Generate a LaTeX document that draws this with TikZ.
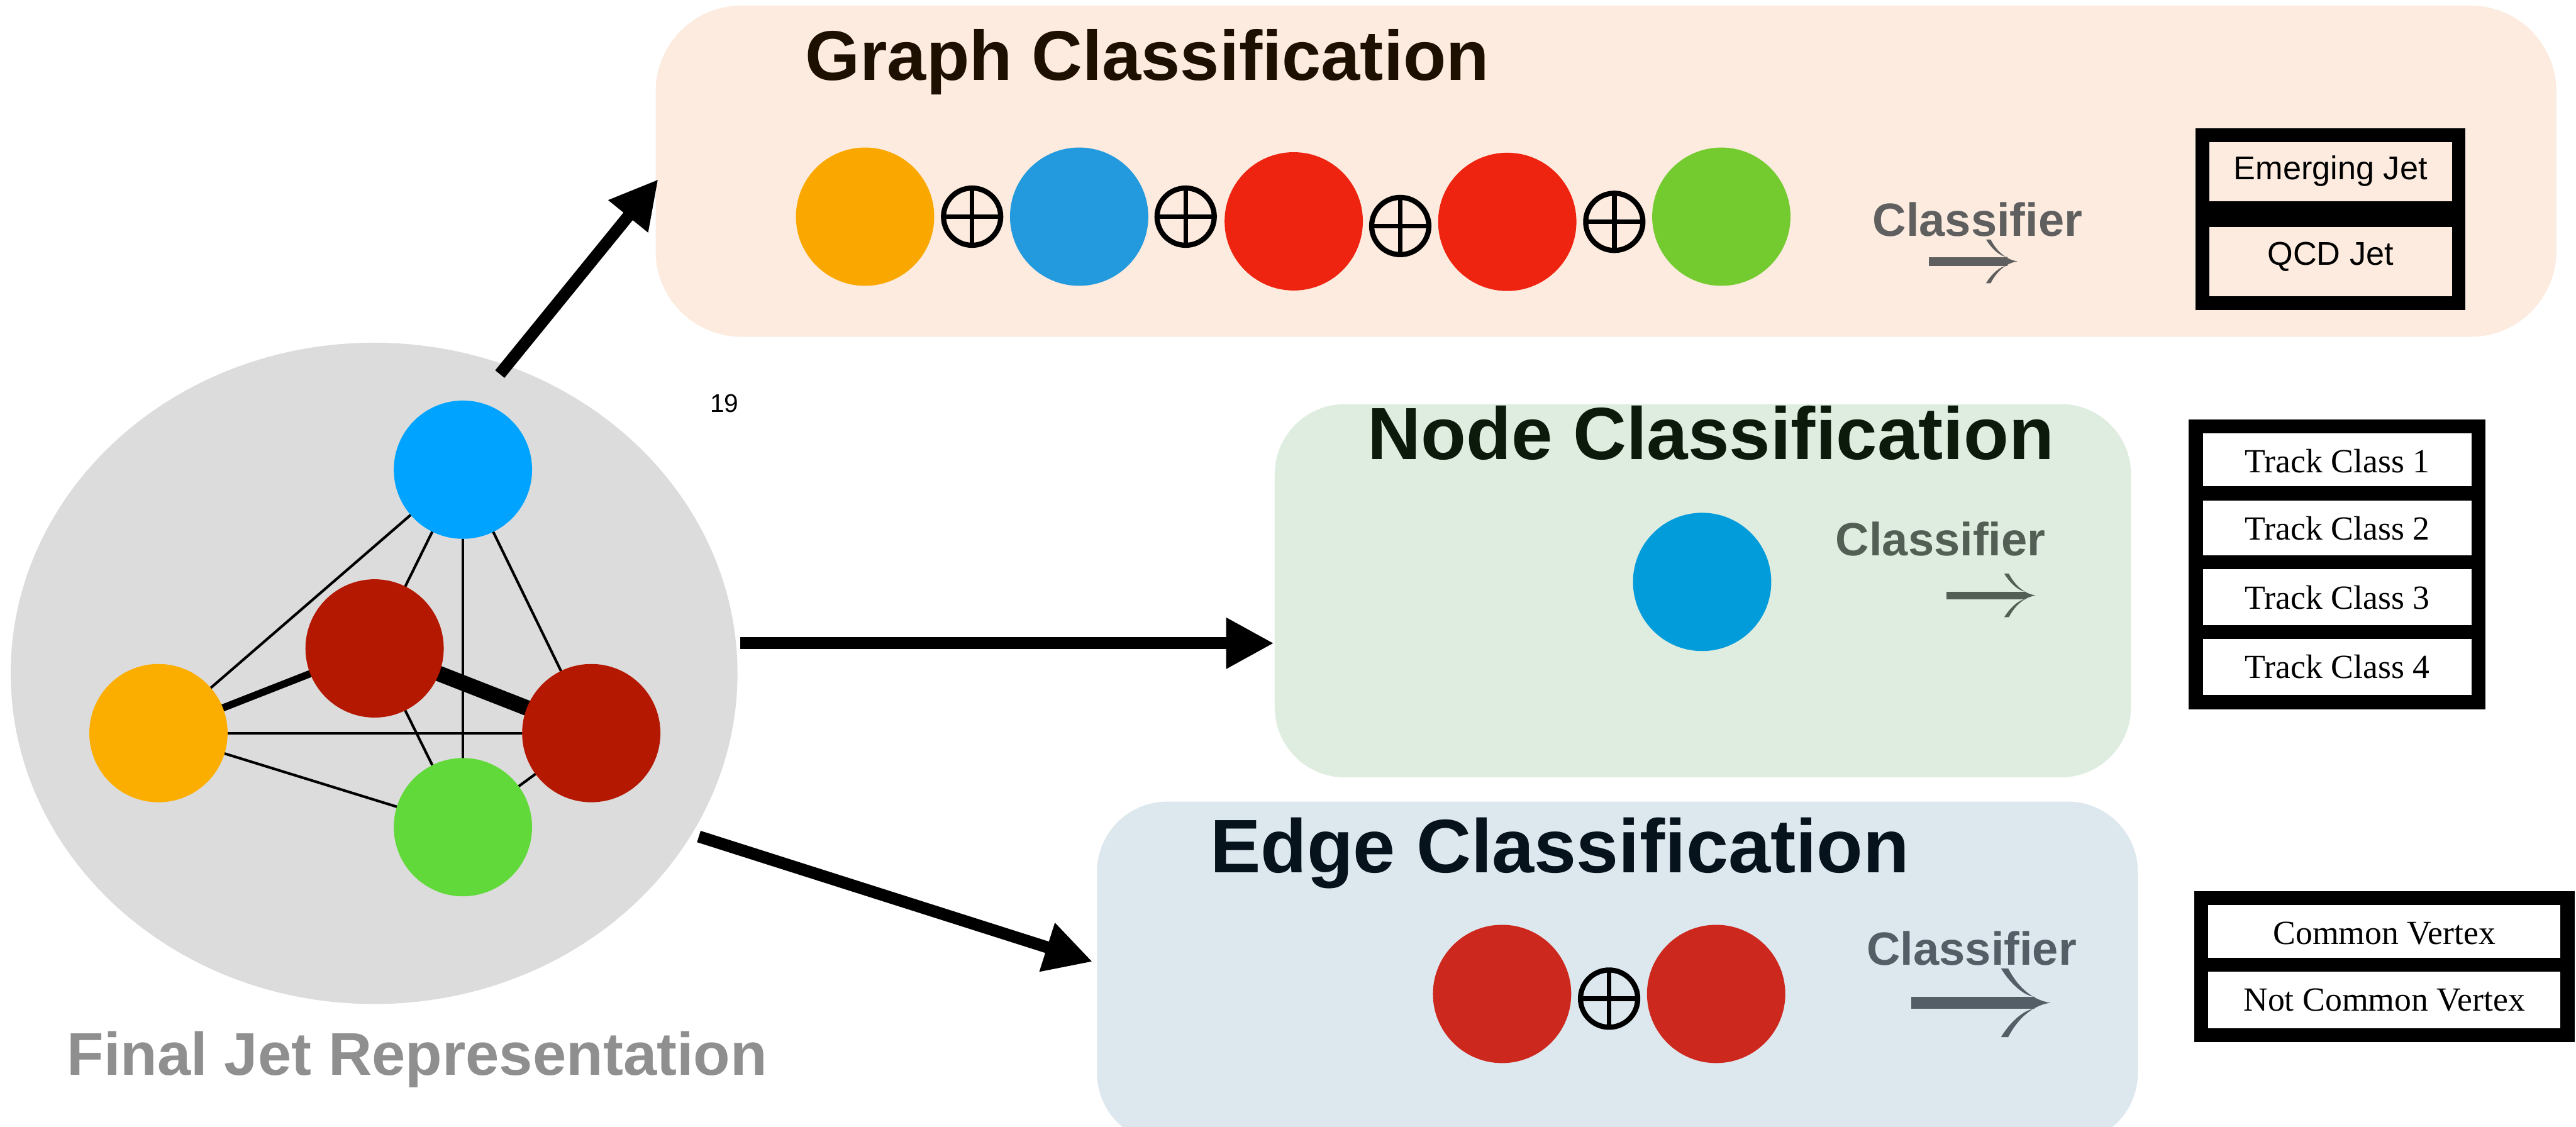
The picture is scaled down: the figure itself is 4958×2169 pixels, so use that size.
\documentclass[tikz,border=0pt]{standalone}
\usepackage{fontspec}
\setmainfont{Liberation Serif}
\newfontfamily\hel{Liberation Sans}
\usetikzlibrary{arrows.meta,shapes.geometric}
\pgfdeclarelayer{back}
\pgfdeclarelayer{mid}
\pgfsetlayers{back,mid,main}

% panel fills
\definecolor{gpeach}{HTML}{FCEBDE}
\definecolor{ngreen}{HTML}{DEEDDF}
\definecolor{eblue}{HTML}{DDE7EE}
\definecolor{jetgray}{HTML}{DCDCDC}
% titles and labels
\definecolor{gtitlec}{HTML}{1E1000}
\definecolor{ntitlec}{HTML}{0B1A0B}
\definecolor{etitlec}{HTML}{06121C}
\definecolor{gclsc}{HTML}{5F5F5F}
\definecolor{nclsc}{HTML}{535F55}
\definecolor{eclsc}{HTML}{535E66}
\definecolor{capgray}{HTML}{8F8F8F}
% graph-level dots
\definecolor{gorange}{HTML}{FAA800}
\definecolor{gblue}{HTML}{229ADD}
\definecolor{gred}{HTML}{EE2310}
\definecolor{ggreen}{HTML}{74CB30}
\definecolor{nblue}{HTML}{039CDB}
\definecolor{ered}{HTML}{CD281D}
% jet graph dots
\definecolor{jblue}{HTML}{00A3FF}
\definecolor{jred}{HTML}{B51800}
\definecolor{jorange}{HTML}{FCAE00}
\definecolor{jgreen}{HTML}{62D93A}

% long arrow under "Classifier": #1 tip x, #2 y, #3 tail x,
% #4 shaft thickness, #5 half head height, #6 head length, #7 colour
\newcommand{\glypharrow}[7]{%
  \fill[#7] (#3,{#2-#4/2}) rectangle ({#1-0.35*#6},{#2+#4/2});
  \fill[#7] ({#1-1.1*#6},{#2-#5}) -- ({#1-0.94*#6},{#2-#5})
    .. controls ({#1-0.72*#6},{#2-0.45*#5}) and ({#1-0.4*#6},{#2-0.08*#5}) .. (#1,#2)
    .. controls ({#1-0.4*#6},{#2+0.08*#5}) and ({#1-0.72*#6},{#2+0.45*#5}) .. ({#1-0.94*#6},{#2+#5})
    -- ({#1-1.1*#6},{#2+#5})
    .. controls ({#1-0.92*#6},{#2+0.6*#5}) and ({#1-0.6*#6},{#2+0.2*#5}) .. ({#1-0.35*#6},{#2+#4/2})
    -- ({#1-0.35*#6},{#2-#4/2})
    .. controls ({#1-0.6*#6},{#2-0.2*#5}) and ({#1-0.92*#6},{#2-0.6*#5}) .. ({#1-1.1*#6},{#2-#5})
    -- cycle;
}

\tikzset{
  panel/.style={rectangle, draw=none, inner sep=0pt, outer sep=0pt},
  dot/.style={circle, draw=none, inner sep=0pt, outer sep=0pt, minimum size=2.66cm},
  frame/.style={rectangle, fill=black, draw=none, inner sep=0pt, outer sep=0pt},
  cell/.style={rectangle, draw=none, inner sep=0pt, outer sep=0pt},
  lbl/.style={anchor=base, inner sep=0pt, outer sep=0pt},
  titlefont/.style={font={\hel\bfseries\fontsize{#1}{#1}\selectfont}},
  clsfont/.style={font={\hel\bfseries\fontsize{25.5pt}{26pt}\selectfont}},
  sansfont/.style={font={\hel\fontsize{18pt}{20pt}\selectfont}},
  seriffont/.style={font={\fontsize{18.5pt}{20pt}\selectfont}},
  oplusmark/.pic={
    \draw[line width=0.1cm] (0,0) circle (0.55cm);
    \draw[line width=0.09cm] (-55,0) -- (55,0) (0,-55) -- (0,55);
  },
  thinedge/.style={line width=0.05cm, black},
  bigarrow/.style={line width=0.23cm, black, -{Triangle[length=0.92cm,width=0.92cm]}},
}

\begin{document}
\begin{tikzpicture}[x=0.01cm, y=-0.01cm]
\useasboundingbox (0,0) rectangle (4958,2169);

% ---------- panels ----------
\begin{pgfonlayer}{back}
  \fill[white] (0,0) rectangle (4958,2169);
  \begin{scope}
    \clip (0,0) rectangle (4958,2169);
    \node[panel, fill=gpeach, rounded corners=1.65cm, minimum width=36.56cm, minimum height=6.37cm] (gbox) at (3091,329.5) {};
    \node[panel, fill=ngreen, rounded corners=1.35cm, minimum width=16.47cm, minimum height=7.18cm] (nbox) at (3277.5,1137) {};
    \node[panel, fill=eblue, rounded corners=1.35cm, minimum width=20.02cm, minimum height=6.57cm] (ebox) at (3113,1871.5) {};
    \node[ellipse, fill=jetgray, draw=none, inner sep=0pt, minimum width=13.98cm, minimum height=12.72cm] (jet) at (720,1296) {};
  \end{scope}
\end{pgfonlayer}

% ---------- final jet representation graph ----------
\node[dot, fill=jblue]   (jb)  at (891,904) {};
\node[dot, fill=jred]    (jr1) at (721,1248) {};
\node[dot, fill=jorange] (jo)  at (305,1411) {};
\node[dot, fill=jred]    (jr2) at (1138,1411) {};
\node[dot, fill=jgreen]  (jg)  at (891,1592) {};

\begin{pgfonlayer}{mid}
  \draw[thinedge] (jo.center) -- (jb.center);
  \draw[thinedge] (jr1.center) -- (jb.center);
  \draw[thinedge] (jb.center) -- (jg.center);
  \draw[thinedge] (jb.center) -- (jr2.center);
  \draw[thinedge] (jo.center) -- (jr2.center);
  \draw[thinedge] (jo.center) -- (jg.center);
  \draw[thinedge] (jr1.center) -- (jg.center);
  \draw[thinedge] (jr2.center) -- (jg.center);
  \draw[line width=0.14cm] (jo.center) -- (jr1.center);
  \draw[line width=0.30cm] (jr1.center) -- (jr2.center);
\end{pgfonlayer}

\node[lbl, font={\hel\bfseries\fontsize{33pt}{34pt}\selectfont}, text=capgray] (jetcap) at (803,2069) {Final Jet Representation};
\node[lbl, font={\hel\fontsize{14pt}{15pt}\selectfont}] (pagenum) at (1394,794) {19};

% ---------- arrows to the three tasks ----------
\coordinate (a1s) at (962,720);
\coordinate (a1e) at (1267,345);
\coordinate (a2s) at (1425,1238);
\coordinate (a2e) at (2452,1238);
\coordinate (a3s) at (1345,1610);
\coordinate (a3e) at (2103,1851);
\draw[bigarrow] (a1s) -- (a1e);
\draw[bigarrow] (a2s) -- (a2e);
\draw[bigarrow] (a3s) -- (a3e);

% ---------- graph classification ----------
\node[lbl, titlefont=38.5pt, text=gtitlec] (gtitle) at (2208,154) {Graph Classification};
\node[dot, fill=gorange] (g1) at (1665,417) {};
\node[dot, fill=gblue]   (g2) at (2077,417) {};
\node[dot, fill=gred]    (g3) at (2490,426) {};
\node[dot, fill=gred]    (g4) at (2901,427) {};
\node[dot, fill=ggreen]  (g5) at (3313,417) {};
\pic (gp1) at (1871,417) {oplusmark};
\pic (gp2) at (2282,417) {oplusmark};
\pic (gp3) at (2695,435) {oplusmark};
\pic (gp4) at (3107,427) {oplusmark};
\node[lbl, clsfont, text=gclsc] (gcls) at (3806,455) {Classifier};
\glypharrow{3883}{503}{3712}{17}{42}{55}{gclsc}
\node[frame, minimum width=5.19cm, minimum height=3.50cm] (gframe) at (4485.5,422) {};
\node[cell, fill=gpeach, minimum width=4.67cm, minimum height=1.14cm] (gc1) at (4485.5,330) {};
\node[cell, fill=gpeach, minimum width=4.67cm, minimum height=1.33cm] (gc2) at (4485.5,503.5) {};
\node[lbl, sansfont] (gt1) at (4485.5,346) {Emerging Jet};
\node[lbl, sansfont] (gt2) at (4485.5,510) {QCD Jet};

% ---------- node classification ----------
\node[lbl, titlefont=40.5pt, text=ntitlec] (ntitle) at (3293,884) {Node Classification};
\node[dot, fill=nblue] (n1) at (3276,1120) {};
\node[lbl, clsfont, text=nclsc] (ncls) at (3735,1069) {Classifier};
\glypharrow{3918}{1146}{3746}{14}{42}{55}{nclsc}
\node[frame, minimum width=5.71cm, minimum height=5.57cm] (nframe) at (4498.5,1086.5) {};
\node[cell, fill=white, minimum width=5.17cm, minimum height=1.02cm] (nc1) at (4498.5,885) {};
\node[cell, fill=white, minimum width=5.17cm, minimum height=1.06cm] (nc2) at (4498.5,1016) {};
\node[cell, fill=white, minimum width=5.17cm, minimum height=1.07cm] (nc3) at (4498.5,1149.5) {};
\node[cell, fill=white, minimum width=5.17cm, minimum height=1.08cm] (nc4) at (4498.5,1284) {};
\node[lbl, seriffont] (nt1) at (4498.5,910) {Track Class 1};
\node[lbl, seriffont] (nt2) at (4498.5,1039) {Track Class 2};
\node[lbl, seriffont] (nt3) at (4498.5,1172) {Track Class 3};
\node[lbl, seriffont] (nt4) at (4498.5,1306) {Track Class 4};

% ---------- edge classification ----------
\node[lbl, titlefont=41.5pt, text=etitlec] (etitle) at (3002,1680) {Edge Classification};
\node[dot, fill=ered] (e1) at (2891,1913) {};
\node[dot, fill=ered] (e2) at (3303,1913) {};
\pic (ep1) at (3097,1922) {oplusmark};
\node[lbl, clsfont, text=eclsc] (ecls) at (3795,1858) {Classifier};
\glypharrow{3946}{1930}{3678}{23}{66}{86}{eclsc}
\node[frame, minimum width=7.32cm, minimum height=2.91cm] (eframe) at (4589,1860.5) {};
\node[cell, fill=white, minimum width=6.78cm, minimum height=1.01cm] (ec1) at (4589,1792.5) {};
\node[cell, fill=white, minimum width=6.78cm, minimum height=1.09cm] (ec2) at (4589,1924.5) {};
\node[lbl, seriffont] (et1) at (4589,1817) {Common Vertex};
\node[lbl, seriffont] (et2) at (4589,1946) {Not Common Vertex};
\end{tikzpicture}
\end{document}
